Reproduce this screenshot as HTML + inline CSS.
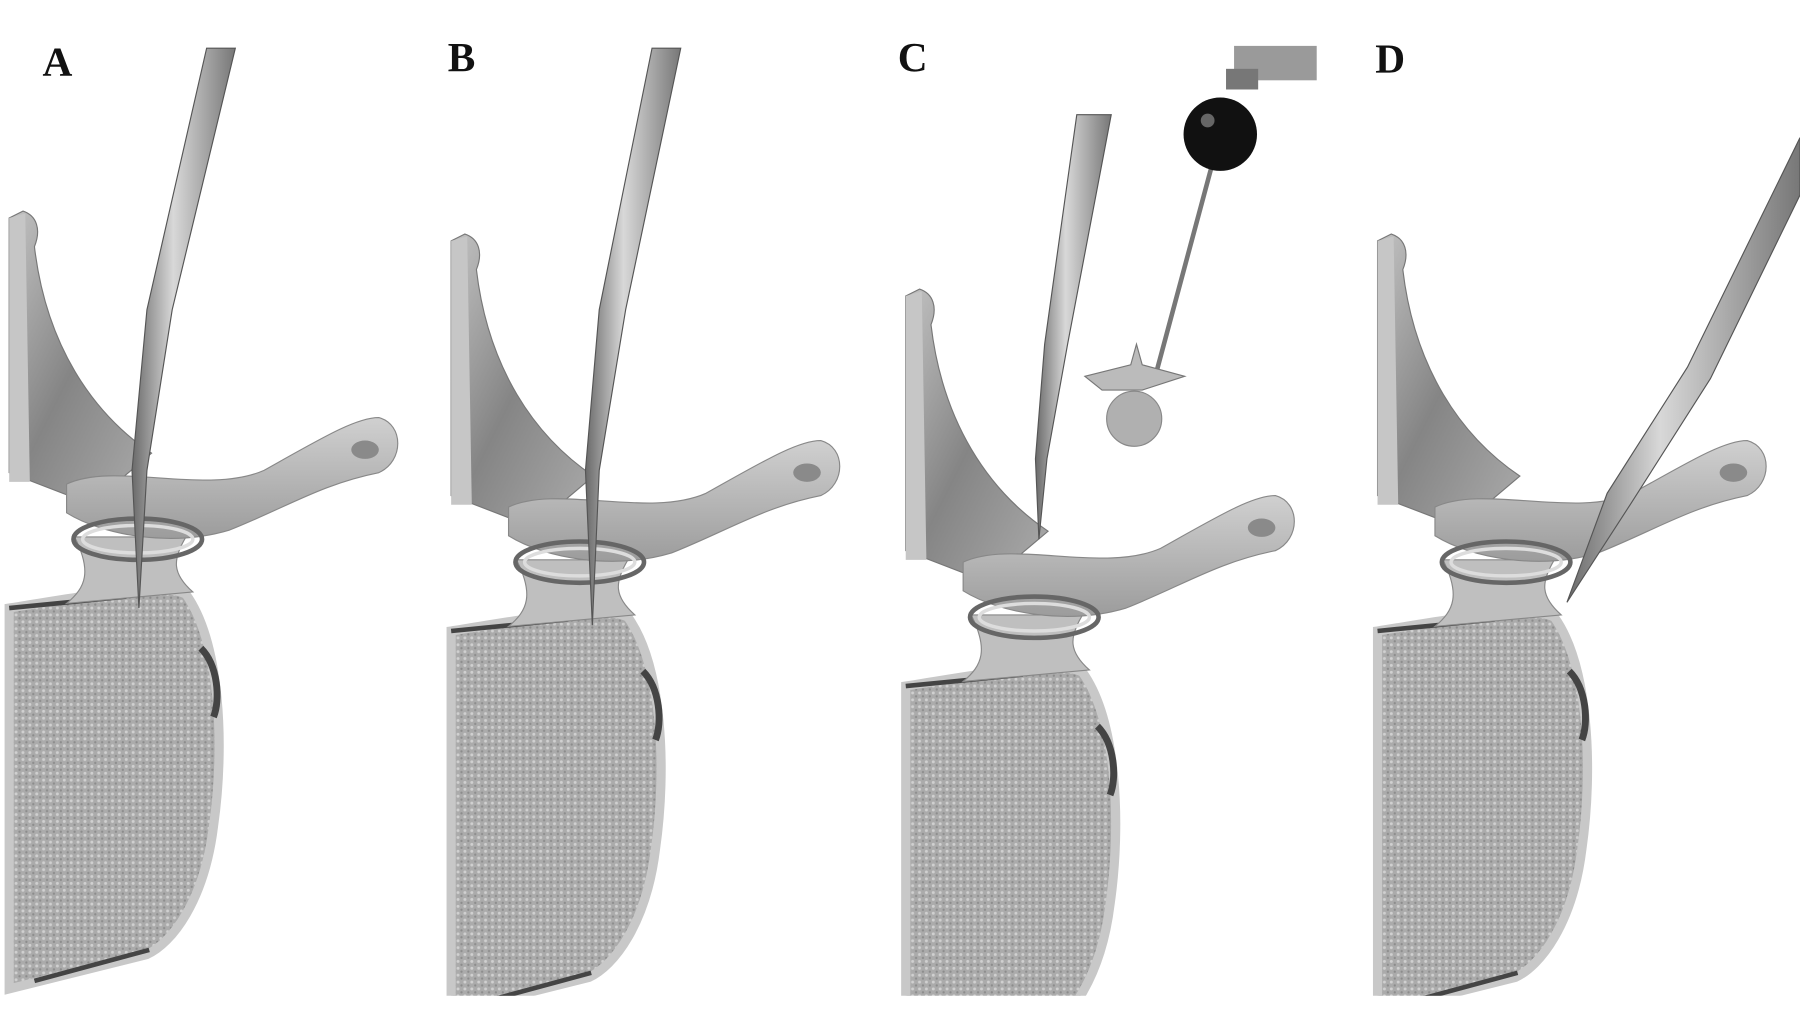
<!DOCTYPE html>
<html><head><meta charset="utf-8"><style>html,body{margin:0;padding:0;background:#fff;overflow:hidden;width:1800px;height:1013px}svg{display:block;position:absolute;left:0;top:0}</style></head><body>
<svg width="1800" height="1013" viewBox="0 0 1568 883" preserveAspectRatio="none" xmlns="http://www.w3.org/2000/svg">
<defs>
<pattern id="st" width="6" height="6" patternUnits="userSpaceOnUse">
<rect width="6" height="6" fill="#ababab"/><circle cx="2" cy="2" r="1.3" fill="#d0d0d0"/><circle cx="5" cy="5" r="1" fill="#8c8c8c"/>
</pattern>
<linearGradient id="lam" x1="0" y1="0" x2="1" y2="1"><stop offset="0" stop-color="#c2c2c2"/><stop offset="0.5" stop-color="#858585"/><stop offset="1" stop-color="#aaa"/></linearGradient>
<linearGradient id="tp" x1="0" y1="0" x2="0" y2="1"><stop offset="0" stop-color="#d0d0d0"/><stop offset="1" stop-color="#9c9c9c"/></linearGradient>
<linearGradient id="nd" x1="0" y1="0" x2="1" y2="0"><stop offset="0" stop-color="#6a6a6a"/><stop offset="0.4" stop-color="#d8d8d8"/><stop offset="1" stop-color="#777"/></linearGradient>
<clipPath id="cp"><rect x="0" y="0" width="1568" height="868"/></clipPath>
<g id="v">
<path d="M8,530 C60,522 140,506 162,518 C192,560 196,650 186,720 C178,785 150,822 128,832 L8,862 Z" fill="url(#st)" stroke="#c8c8c8" stroke-width="8"/>
<path d="M8,530 L110,520" stroke="#444" stroke-width="4" fill="none"/>
<path d="M175,565 C190,580 192,610 186,625" stroke="#444" stroke-width="6" fill="none"/>
<path d="M30,855 L130,828" stroke="#444" stroke-width="4" fill="none"/>
<path d="M65,468 C80,498 75,512 58,526 L168,516 C150,500 150,488 162,468 Z" fill="#bfbfbf" stroke="#888"/>
<path d="M8,190 L20,184 C32,188 36,200 30,215 C40,300 80,360 132,395 L100,422 L60,432 L8,412 Z" fill="url(#lam)" stroke="#777"/>
<path d="M8,190 L22,186 L26,420 L8,420 Z" fill="#c6c6c6"/>
<path d="M58,422 C100,402 180,432 230,410 C280,382 310,364 330,364 C352,370 352,402 330,412 C280,422 250,442 200,462 C150,477 90,467 58,447 Z" fill="url(#tp)" stroke="#888"/>
<ellipse cx="318" cy="392" rx="12" ry="8" fill="#8a8a8a"/>
<ellipse cx="120" cy="470" rx="56" ry="18" fill="none" stroke="#666" stroke-width="4"/>
<ellipse cx="120" cy="470" rx="48" ry="12" fill="none" stroke="#ddd" stroke-width="3"/>
</g>
</defs>
<rect width="1568" height="883" fill="#fff"/>
<g clip-path="url(#cp)">
<use href="#v" x="0" y="0"/>
<use href="#v" x="385" y="20"/>
<use href="#v" x="781" y="68"/>
<use href="#v" x="1192" y="20"/>
</g>
<path d="M180,42 L205,42 L150,270 L128,410 L121,530 L115,410 L128,270 Z" fill="url(#nd)" stroke="#555"/>
<path d="M568,42 L593,42 L545,270 L522,410 L516,545 L510,410 L522,270 Z" fill="url(#nd)" stroke="#555"/>
<path d="M938,100 L968,100 L930,300 L912,400 L905,470 L902,400 L910,300 Z" fill="url(#nd)" stroke="#555"/>
<path d="M1568,120 L1568,170 L1490,330 L1420,440 L1365,525 L1400,430 L1470,320 Z" fill="url(#nd)" stroke="#555"/>
<rect x="1075" y="40" width="72" height="30" fill="#9a9a9a"/>
<rect x="1068" y="60" width="28" height="18" fill="#777"/>
<line x1="1063" y1="117" x2="1008" y2="322" stroke="#777" stroke-width="4"/>
<circle cx="1063" cy="117" r="32" fill="#111"/>
<circle cx="1052" cy="105" r="6" fill="#666"/>
<path d="M945,328 L985,318 L990,300 L995,318 L1032,328 L995,340 L960,340 Z" fill="#bbb" stroke="#777"/>
<circle cx="988" cy="365" r="24" fill="#b0b0b0" stroke="#888"/>
<g font-family="Liberation Serif, serif" font-weight="bold" font-size="36" fill="#111">
<text x="37" y="66">A</text><text x="390" y="62">B</text><text x="782" y="62">C</text><text x="1198" y="63">D</text>
</g>
</svg>
</body></html>
